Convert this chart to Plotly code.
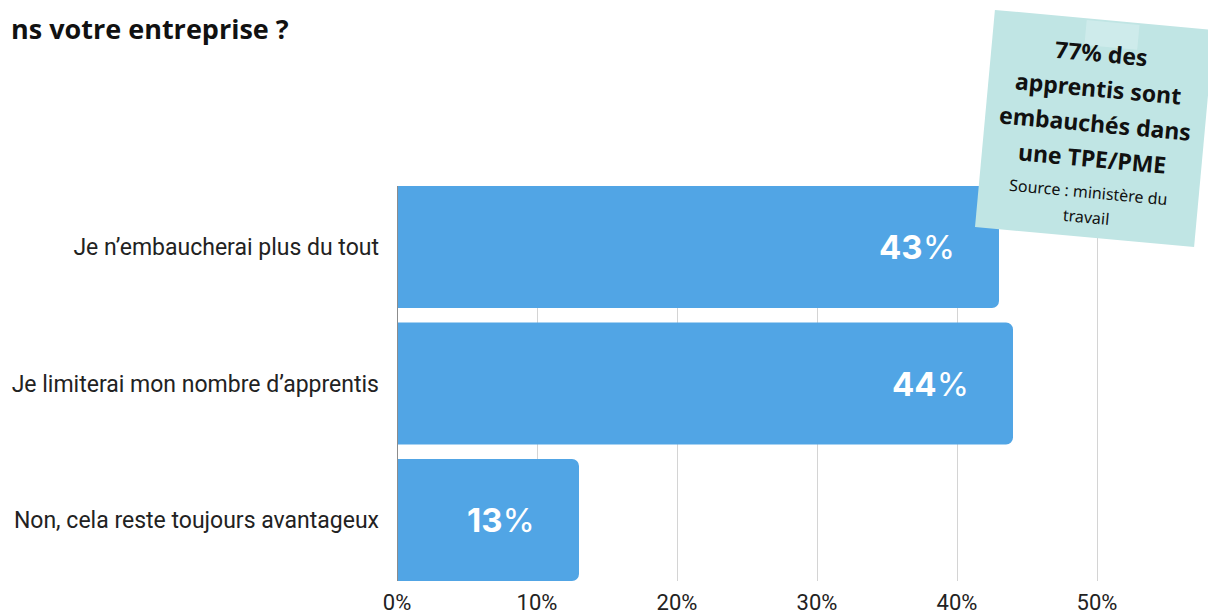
import math
import plotly.graph_objects as go

categories = ["Je n’embaucherai plus du tout",
              "Je limiterai mon nombre d’apprentis",
              "Non, cela reste toujours avantageux"]
values = [43, 44, 13]
value_labels = ["<b>43</b>%", "<b>44</b>%", "<b>13</b>%"]
tick_vals = [0, 10, 20, 30, 40, 50]
tick_text = ["0%", "10%", "20%", "30%", "40%", "50%"]
title_text = "ns votre entreprise ?"
note_lines = ["77% des", "apprentis sont", "embauchés dans", "une TPE/PME"]
note_source_lines = ["Source\u00a0: ministère du", "travail"]

BAR = "#51a5e5"
NOTE_BG = "#c0e5e4"
TAPE = "#d2eded"

# page offset (browser body margin) compensation
OFF = 8
W, H = 1216 - OFF, 614 - OFF
ML, MT, MB, MR = 397 - OFF, 186 - OFF, 33, 0
PW = W - ML - MR
PH = H - MT - MB


def px_to_paper(xp, yp):
    """page pixel -> paper coords"""
    return (xp - 397) / PW, (581 - yp) / PH


fig = go.Figure()
fig.add_trace(go.Bar(
    y=categories, x=values, orientation="h",
    marker=dict(color=BAR, line=dict(width=0), cornerradius=7),
    hoverinfo="skip",
))

# value labels inside bars
for c, v, t in zip(categories, values, value_labels):
    fig.add_annotation(x=v, y=c, xref="x", yref="y", text=t, showarrow=False,
                       xanchor="right", yanchor="middle", xshift=-42, yshift=0,
                       font=dict(family="Inter", size=33, color="white"))

# title (clipped at the left in the reference)
tx, ty = px_to_paper(OFF + 1, 8)
fig.add_annotation(x=tx, y=ty, xref="paper", yref="paper", text="<b>" + title_text + "</b>",
                   showarrow=False, xanchor="left", yanchor="top",
                   font=dict(family="Open Sans", size=27, color="#111111"))

fig.update_layout(
    width=W, height=H,
    margin=dict(l=ML, r=MR, t=MT, b=MB, autoexpand=False),
    paper_bgcolor="white", plot_bgcolor="white",
    showlegend=False,
    bargap=0.106,
    font=dict(family="Roboto", size=22, color="#222222"),
    xaxis=dict(range=[0, 58.5], tickvals=tick_vals, ticktext=tick_text,
               showgrid=True, gridcolor="#d4d4d4", gridwidth=1,
               zeroline=False, showline=False, ticks="",
               ticklabelstandoff=6,
               tickfont=dict(family="Roboto", size=22, color="#222222")),
    yaxis=dict(autorange=False, range=[2.447, -0.447], categoryorder="array",
               categoryarray=categories, showgrid=False, zeroline=False,
               showline=False, ticks="", ticklabelstandoff=17,
               tickfont=dict(family="Roboto", size=23, color="#222222")),
)

# zero axis line
fig.add_shape(type="line", xref="x", yref="paper", x0=0, x1=0, y0=0, y1=1,
              line=dict(color="#8c8c8c", width=2), layer="above")

# note card (rotated)
ANG = 5.24
CX, CY = 1094.5, 128.5
s, co = math.sin(math.radians(ANG)), math.cos(math.radians(ANG))


def card_pos(d, lateral=0.0):
    xp = CX - s * d + co * lateral
    yp = CY + co * d + s * lateral
    return px_to_paper(xp, yp)


bx, by = card_pos(0)
fig.add_annotation(xref="paper", yref="paper", x=bx, y=by, xanchor="center", yanchor="middle",
                   text=" ", showarrow=False, textangle=ANG, bgcolor=NOTE_BG,
                   width=215, height=213, borderpad=2)
# tape strip
tpx, tpy = card_pos(-95, 9)
fig.add_annotation(xref="paper", yref="paper", x=tpx, y=tpy, xanchor="center", yanchor="middle",
                   text=" ", showarrow=False, textangle=ANG, bgcolor=TAPE,
                   width=52, height=24, borderpad=0, opacity=0.8)

main_d = [-76, -41, -6, 30]
for line, d in zip(note_lines, main_d):
    lx, ly = card_pos(d)
    fig.add_annotation(xref="paper", yref="paper", x=lx, y=ly, xanchor="center", yanchor="middle",
                       text="<b>" + line + "</b>", showarrow=False, textangle=ANG,
                       font=dict(family="Noto Sans", size=23, color="#111111"))
src_d = [64, 89]
for line, d in zip(note_source_lines, src_d):
    lx, ly = card_pos(d)
    fig.add_annotation(xref="paper", yref="paper", x=lx, y=ly, xanchor="center", yanchor="middle",
                       text=line, showarrow=False, textangle=ANG,
                       font=dict(family="Noto Sans", size=16, color="#111111"))

fig.write_html("out.html")
